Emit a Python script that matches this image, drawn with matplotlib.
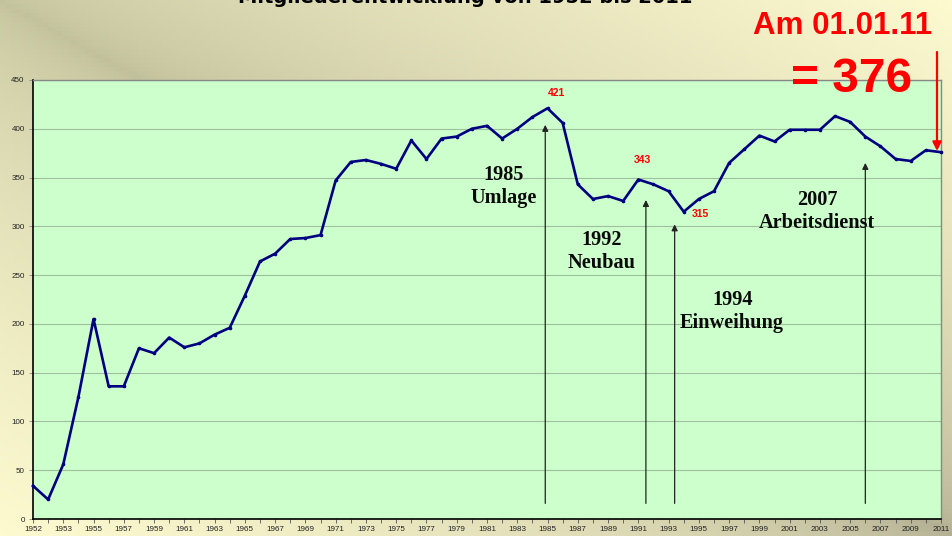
import matplotlib
matplotlib.use("Agg")
import matplotlib.pyplot as plt
import numpy as np

# category axis: the first year appears twice in the source sheet
years = [1952] + list(range(1952, 2012))
members = [34, 20, 56, 125, 205, 136, 136, 175, 170, 186,
           176, 180, 189, 196, 229, 264, 272, 287, 288, 291,
           347, 366, 368, 364, 359, 388, 369, 390, 392, 400,
           403, 390, 400, 412, 421, 406, 343, 328, 331, 326,
           348, 343, 336, 315, 328, 336, 365, 379, 393, 387,
           399, 399, 399, 413, 407, 392, 382, 369, 367, 378,
           376]

# events: label, arrow x (category index), arrow tip value, text x, text y
events = [("1985\nUmlage", 33.85, 404, 31.1, 341),
          ("1992\nNeubau", 40.5, 327, 37.6, 274),
          ("1994\nEinweihung", 42.4, 302, 46.2, 213),
          ("2007\nArbeitsdienst", 55.0, 365, 51.8, 315)]

# red value labels: text, x, y
peaks = [("421", 34.6, 437), ("343", 40.3, 368), ("315", 44.1, 313)]

W, H = 953, 536
fig = plt.figure(figsize=(W / 100, H / 100), dpi=100)

# background gradient (dark top-left / bottom-right, light elsewhere)
bg = fig.add_axes([0, 0, 1, 1], zorder=-10)
gx, gy = np.meshgrid(np.linspace(0, 1, 200), np.linspace(0, 1, 120))
t = np.abs(gx - gy) ** 0.6
dark_tl = np.array([194, 194, 156]) / 255
dark_br = np.array([178, 174, 146]) / 255
light = np.array([253, 250, 208]) / 255
dark = dark_tl[None, None, :] * (1 - gx[..., None]) + dark_br[None, None, :] * gx[..., None]
img = dark * (1 - t[..., None]) + light[None, None, :] * t[..., None]
bg.imshow(img, aspect="auto", extent=[0, 1, 1, 0])
bg.set_xlim(0, 1)
bg.set_ylim(1, 0)
bg.axis("off")

ax = fig.add_axes([33 / W, 17 / H, 908 / W, 439 / H])
ax.set_facecolor("#ccffcc")
x = np.arange(len(years))
ax.plot(x, members, color="#000080", lw=1.9, marker="o", ms=1.6,
        zorder=3, clip_on=False)

ax.set_xlim(0, len(years) - 1)
ax.set_ylim(0, 450)
ax.set_yticks(range(0, 451, 50))
ax.yaxis.grid(True, color="#9fbf9f", lw=0.8)
ax.set_axisbelow(True)

ax.set_xticks(x)
ax.set_xticklabels([str(y) if i % 2 == 0 else "" for i, y in enumerate(years)])
ax.tick_params(axis="x", length=3, width=0.6, color="#555555", pad=2,
               labelsize=5.8)
ax.tick_params(axis="y", length=3, width=0.6, color="#888888", pad=3,
               labelsize=5.8)
for lab in ax.get_xticklabels() + ax.get_yticklabels():
    lab.set_family("Liberation Sans")
    lab.set_color("#222222")

for side in ("top", "right"):
    ax.spines[side].set_color("#888888")
    ax.spines[side].set_linewidth(1)
for side in ("left", "bottom"):
    ax.spines[side].set_color("black")
    ax.spines[side].set_linewidth(1.2)

for label, ax_x, tip, tx, ty in events:
    ax.annotate("", xy=(ax_x, tip), xytext=(ax_x, 16),
                arrowprops=dict(arrowstyle="-|>", color="#222222", lw=0.9,
                                mutation_scale=9, shrinkA=0, shrinkB=0))
    ax.text(tx, ty, label, ha="center", va="center", family="Liberation Serif",
            fontweight="bold", fontsize=14.6, linespacing=1.2, color="#0a0a0a")

for label, px, py in peaks:
    ax.text(px, py, label, ha="center", va="center", color="#ff0000",
            family="Liberation Sans", fontweight="bold", fontsize=7.5)

# the title sits mostly above the slide edge, as in the original
fig.text(465 / W, 1 - 3 / H, "Mitgliederentwicklung von 1952 bis 2011",
         ha="center", va="baseline", fontsize=14, fontweight="bold",
         family="DejaVu Sans", color="#000000")

fig.text(843 / W, 1 - 26 / H, "Am 01.01.11", ha="center", va="center",
         color="#ff0000", family="Liberation Sans", fontweight="bold",
         fontsize=22.5)
fig.text(852 / W, 1 - 80 / H, "= 376", ha="center", va="center",
         color="#ff0000", family="Liberation Sans", fontweight="bold",
         fontsize=34.5)
fig.patches.append(matplotlib.patches.FancyArrowPatch(
    (937 / W, 1 - 52 / H), (937 / W, 1 - 151 / H),
    transform=fig.transFigure, arrowstyle="-|>", color="#ff0000", lw=1.6,
    mutation_scale=13, shrinkA=0, shrinkB=0))

fig.savefig("out.png", dpi=100)
